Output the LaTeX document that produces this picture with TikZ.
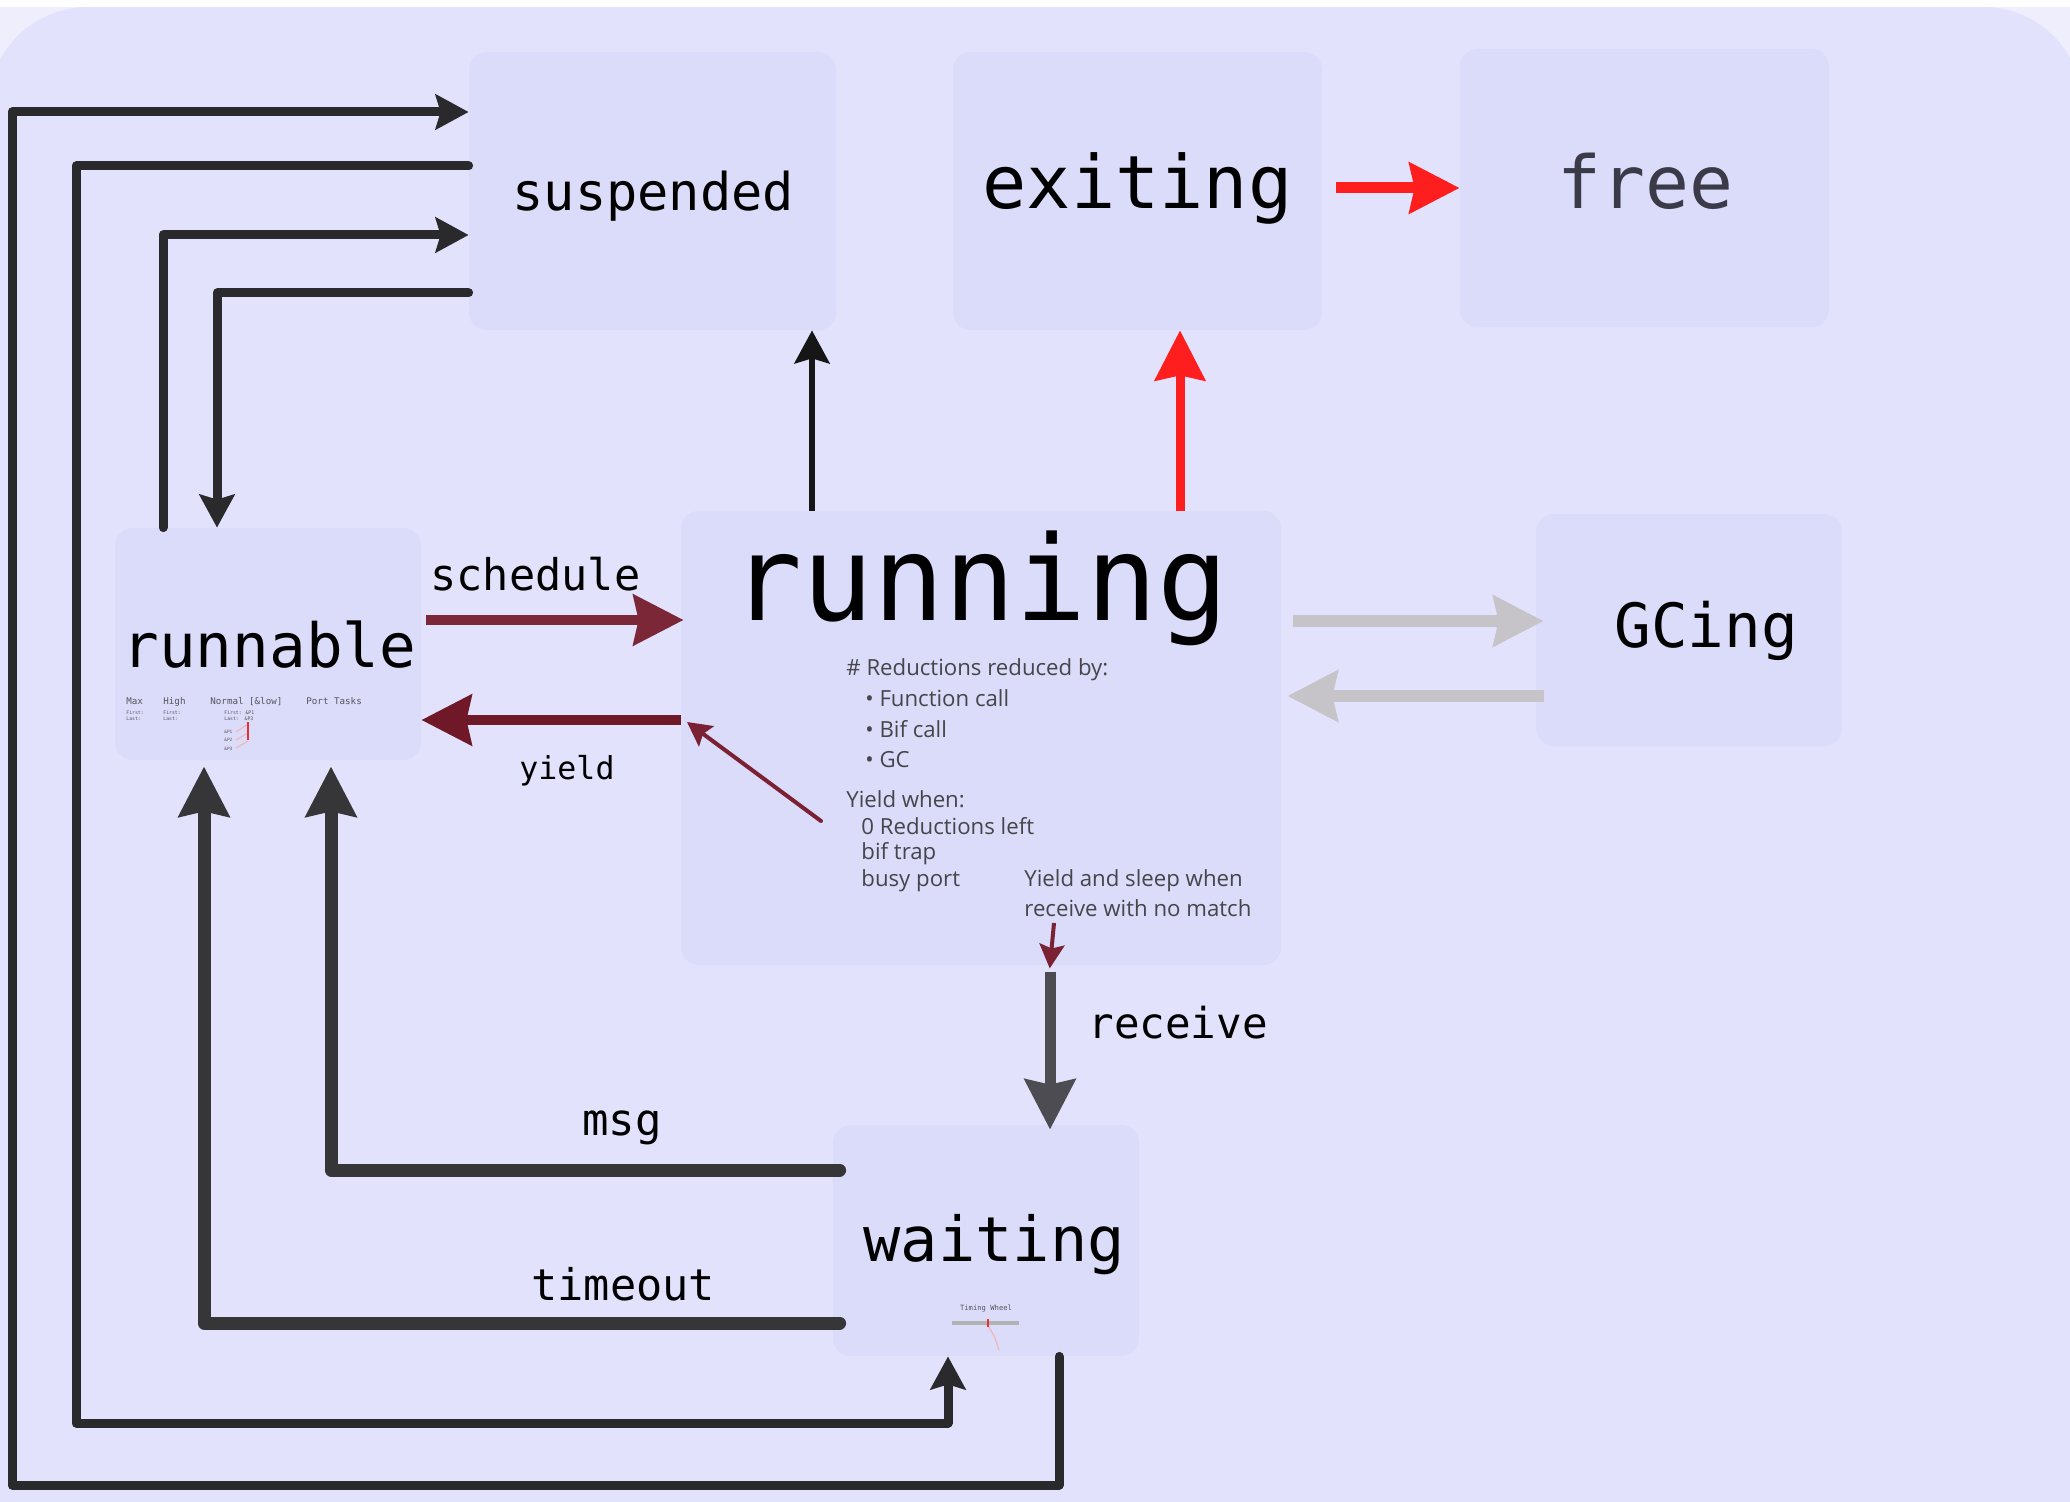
\documentclass[tikz,border=0pt]{standalone}
\usepackage{fontspec}
\newfontfamily\monof{DejaVu Sans Mono}
\newfontfamily\notef{Open Sans}
\usetikzlibrary{arrows.meta,fit,calc}

\definecolor{outerbg}{HTML}{EEEEFC}
\definecolor{panelbg}{HTML}{E2E2FD}
\definecolor{boxbg}{HTML}{DBDBFA}
\definecolor{loopdark}{HTML}{2A2A2C}
\definecolor{arrowblack}{HTML}{161616}
\definecolor{schedcol}{HTML}{7B2738}
\definecolor{yieldcol}{HTML}{6E1828}
\definecolor{notered}{HTML}{7A2234}
\definecolor{gcgray}{HTML}{C6C4C8}
\definecolor{redA}{HTML}{FF1E1E}
\definecolor{recvcol}{HTML}{4C4C52}
\definecolor{msgcol}{HTML}{363638}
\definecolor{notegray}{HTML}{45454A}
\definecolor{freegray}{HTML}{3A3A48}
\definecolor{tinygray}{HTML}{55555C}
\definecolor{pinkline}{HTML}{F2B8B8}
\definecolor{barred}{HTML}{E8303C}

\begin{document}
\begin{tikzpicture}[x=0.5pt,y=-0.5pt,
  box/.style={fill=boxbg, rounded corners=9pt, inner sep=0pt},
  nm/.style={font=\monof\fontsize{#1}{#1}\selectfont, inner sep=0pt, anchor=base west},
  note/.style={font=\notef\fontsize{11.1}{13}\selectfont, text=notegray, inner sep=0pt, anchor=base west},
  tiny/.style={font=\monof\fontsize{#1}{#1}\selectfont, text=tinygray, inner sep=0pt, anchor=base west},
  headS/.style={-{Stealth[length=16.5pt,width=17.5pt,inset=2.5pt]}},
  headL/.style={-{Stealth[length=25pt,width=25pt,inset=2.5pt]}},
  headT/.style={-{Stealth[length=12pt,width=12.5pt,inset=2pt]}},
  loopline/.style={draw=loopdark, line width=4.5pt, line cap=round, line join=round},
]
\useasboundingbox (0,0) rectangle (2070,1502);

% backdrop and rounded panel
\fill[outerbg] (0,0) rectangle (2070,1502);
\fill[white] (0,0) rectangle (2070,7);
\fill[panelbg, rounded corners=50pt] (-12,7) rectangle (2083,1700);

% state boxes
\node[box, fit={(469,52) (836,330)}] (suspended) {};
\node[box, fit={(953,52) (1322,330)}] (exiting) {};
\node[box, fit={(1460,49) (1829,327)}] (free) {};
\node[box, fit={(115,528) (421,760)}] (runnable) {};
\node[box, fit={(681,511) (1281,965)}] (running) {};
\node[box, fit={(1536,514) (1842,746)}] (GCing) {};
\node[box, fit={(833,1125) (1139,1356)}] (waiting) {};

% state names
\node[nm=26] (suspendedlbl) at (512,211) {suspended};
\node[nm=36.8] (exitinglbl) at (982,209) {exiting};
\node[nm=36.5, text=freegray] (freelbl) at (1557,209) {free};
\node[nm=30.5] (GCinglbl) at (1614,647) {GCing};
\node[nm=59] (runninglbl) at (731,620) {running};
\node[nm=30.5] (runnablelbl) at (122,667) {runnable};
\node[nm=31] (waitinglbl) at (863,1261) {waiting};

% transition labels
\node[nm=21.8] (schedulelbl) at (430,590) {schedule};
\node[nm=15.8] (yieldlbl) at (519,779) {yield};
\node[nm=21.3] (receivelbl) at (1088,1038) {receive};
\node[nm=22] (msglbl) at (582,1135) {msg};
\node[nm=21.8] (timeoutlbl) at (531,1300) {timeout};

% notes inside the running box
\node[note] (n1) at (846,675) {\# Reductions reduced by:};
\node[note] (n2) at (865,706) {• Function call};
\node[note] (n3) at (865,737) {• Bif call};
\node[note] (n4) at (865,767) {• GC};
\node[note] (n5) at (846,807) {Yield when:};
\node[note] (n6) at (861,834) {0 Reductions left};
\node[note] (n7) at (861,859) {bif trap};
\node[note] (n8) at (861,886) {busy port};
\node[note] (n9) at (1024,886) {Yield and sleep when};
\node[note] (n10) at (1024,916) {receive with no match};

% run queues sketched inside the runnable box
\node[tiny=4.6] (qmax) at (126,704) {Max};
\node[tiny=4.6] (qhigh) at (163,704) {High};
\node[tiny=4.6] (qnormal) at (210,704) {Normal [\&low]};
\node[tiny=4.6] (qport) at (306,704) {Port Tasks};
\node[tiny=2.4] (qmaxf) at (126,714) {First:};
\node[tiny=2.4] (qmaxl) at (126,720) {Last:};
\node[tiny=2.4] (qhighf) at (163,714) {First:};
\node[tiny=2.4] (qhighl) at (163,720) {Last:};
\node[tiny=2.4] (qnormf) at (224,714) {First: \&P1};
\node[tiny=2.4] (qnorml) at (224,720) {Last:\ \ \&P3};
\node[tiny=2.2] (qp1) at (224,733) {\&P1};
\node[tiny=2.2] (qp2) at (224,741) {\&P2};
\node[tiny=2.2] (qp3) at (224,750) {\&P3};
\draw[pinkline, line width=0.6pt] (236,732) -- (248,724) (236,740) -- (248,733) (236,748) -- (248,741);
\draw[barred, line width=1pt] (248,722) -- (248,740);

% timing wheel sketched inside the waiting box
\node[tiny=3.6, anchor=base] (wheel) at (986,1310) {Timing Wheel};
\draw[gray!60, line width=2pt] (952,1323) -- (1019,1323);
\draw[pinkline, line width=0.6pt] (988,1325) -- (995,1338) -- (999,1350);
\draw[barred, line width=0.6pt] (988,1319) -- (988,1327);

% suspend / resume loops on the left
\draw[loopline, headS] (waiting.south -| 1059,0) -- (1059,1485) -- (12,1485) -- (12,112) -- (suspended.west |- 0,112);
\draw[loopline, headS] (suspended.west |- 0,166) -- (76,166) -- (76,1423) -- (948,1423) -- (waiting.south -| 948,0);
\draw[loopline, headS] (runnable.north -| 163,0) -- (163,235) -- (suspended.west |- 0,235);
\draw[loopline, headS] (suspended.west |- 0,293) -- (217,293) -- (runnable.north -| 217,0);

% transitions out of running
\draw[draw=arrowblack, line width=3pt, headS] (running.north -| 812,0) -- (suspended.south -| 812,0);
\draw[draw=redA, line width=4.5pt, headL] (running.north -| 1180,0) -- (exiting.south -| 1180,0);
\draw[draw=redA, line width=5.5pt, headL, shorten <=7pt] (exiting.east |- 0,188) -- (free.west |- 0,188);

% scheduling between runnable and running
\draw[draw=schedcol, line width=5.2pt, headL, shorten <=2.5pt, shorten >=-1.5pt] (runnable.east |- 0,620) -- (running.west |- 0,620);
\draw[draw=yieldcol, line width=5.2pt, headL] (running.west |- 0,720) -- (runnable.east |- 0,720);

% garbage collection round trip
\draw[draw=gcgray, line width=6pt, headL, shorten <=6pt, shorten >=-4pt] (running.east |- 0,621) -- (GCing.west |- 0,621);
\draw[draw=gcgray, line width=6pt, headL, shorten <=-4pt, shorten >=3pt] (GCing.west |- 0,696) -- (running.east |- 0,696);

% receive, and wake-ups back to runnable
\draw[draw=recvcol, line width=5.5pt, headL, shorten <=3.5pt, shorten >=-2.5pt] (running.south -| 1050,0) -- (waiting.north -| 1050,0);
\draw[draw=msgcol, line width=6.5pt, headL, line cap=round, line join=round, shorten <=-3.5pt, shorten >=3pt] (waiting.west |- 0,1170) -- (331,1170) -- (runnable.south -| 331,0);
\draw[draw=msgcol, line width=6.5pt, headL, line cap=round, line join=round, shorten <=-3.5pt, shorten >=3pt] (waiting.west |- 0,1323) -- (204,1323) -- (runnable.south -| 204,0);

% pointers from the notes
\coordinate (yieldnote) at (821,821);
\coordinate (yieldexit) at (687,722);
\draw[draw=notered, line width=2pt, headT, line cap=round] (yieldnote) -- (yieldexit);
\coordinate (sleepnote) at (1054,923);
\draw[draw=notered, line width=2pt, headT, shorten >=-1.5pt] (sleepnote) -- (running.south -| 1050,0);
\end{tikzpicture}
\end{document}
